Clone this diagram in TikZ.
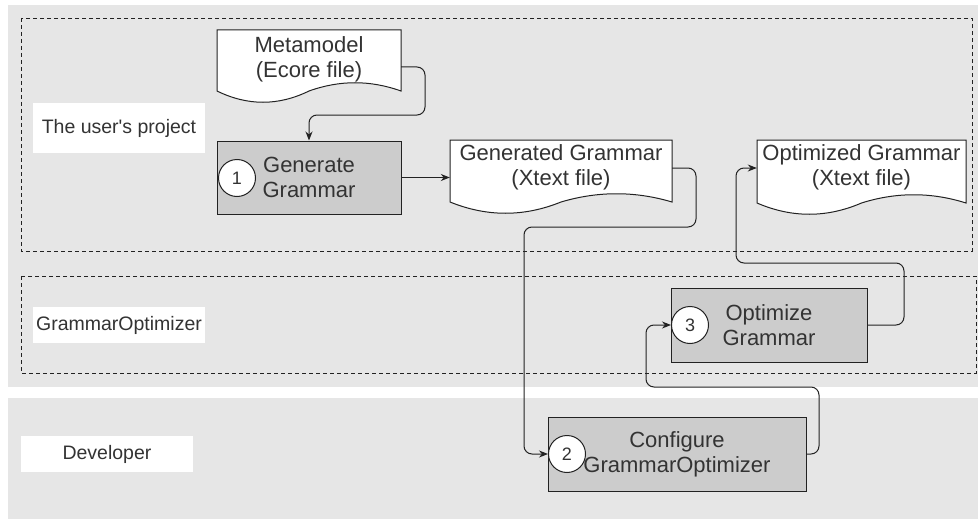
\documentclass[tikz,border=0pt]{standalone}
\usepackage{fontspec}
\setmainfont{Liberation Sans}
\usetikzlibrary{arrows.meta,calc}
\definecolor{bandgray}{HTML}{E6E6E6}
\definecolor{procgray}{HTML}{CCCCCC}
\definecolor{txt}{HTML}{333333}
\definecolor{ln}{HTML}{222222}
\tikzset{
  band/.style={fill=bandgray, draw=none},
  zone/.style={draw=ln, dash pattern=on 4pt off 3pt, line width=0.9pt},
  lbl/.style={fill=white, text=txt, font=\fontsize{19.5}{23}\selectfont, minimum width=172pt, inner sep=0pt},
  proc/.style={draw=ln, fill=procgray, line width=1pt, text=txt, font=\fontsize{22}{25}\selectfont, align=center, inner sep=0pt},
  docbox/.style={inner sep=0pt, text=txt, font=\fontsize{22}{25}\selectfont, align=center},
  docline/.style={draw=ln, fill=white, line width=1pt},
  num/.style={circle, draw=ln, fill=white, line width=1pt, minimum size=37pt, inner sep=0pt, text=txt, font=\fontsize{18}{20}\selectfont},
  conn/.style={draw=ln, line width=1pt, rounded corners=8pt, -{Stealth[length=9pt,width=7pt]}},
}
% name, x0, top, x1, yb, text centre y, text
\newcommand\docnode[7]{%
  \draw[docline] (#2,#3) -- (#4,#3) -- (#4,#5)
    .. controls ({#4-(#4-#2)/6},{#5-11}) and ({(#2+#4)/2+(#4-#2)/6},{#5-11}) .. ({(#2+#4)/2},#5)
    .. controls ({(#2+#4)/2-(#4-#2)/6},{#5+15}) and ({#2+(#4-#2)/6},{#5+15}) .. (#2,#5) -- cycle;
  \node[docbox, minimum width={(#4-#2)*1pt}] (#1) at ({(#2+#4)/2},#6) {#7};
}
\begin{document}
\begin{tikzpicture}[x=1pt,y=-1pt]
\useasboundingbox (0,0) rectangle (978,519);
% bands
\fill[band] (8,5) rectangle (978,387);
\fill[band] (8,398) rectangle (978,519);
% zones
\draw[zone] (21,18) rectangle (972,251);
\draw[zone] (21,276) rectangle (976,373);
% zone labels
\node[lbl, minimum height=50pt] (lproj) at (119,128) {The user\textquotesingle s project};
\node[lbl, minimum height=36pt] (lopt) at (119,325) {GrammarOptimizer};
\node[lbl, minimum height=36pt] (ldev) at (107,454) {Developer};
% documents
\docnode{meta}{217}{30}{401}{91}{59.5}{Metamodel\\(Ecore file)}
\docnode{ggram}{450}{140}{672}{202}{167}{Generated Grammar\\(Xtext file)}
\docnode{ogram}{757}{140}{966}{203}{167.5}{Optimized Grammar\\(Xtext file)}
% processes
\node[proc, minimum width=184pt, minimum height=73pt] (gen) at (309,177.5) {Generate\\Grammar};
\node[proc, minimum width=196pt, minimum height=74pt] (opt) at (769,325) {Optimize\\Grammar};
\node[proc, minimum width=258pt, minimum height=74pt] (conf) at (677,454) {Configure\\GrammarOptimizer};
\node[num] (n1) at (237,178) {1};
\node[num] (n3) at (690,325) {3};
\node[num] (n2) at (567,454) {2};
% connectors
\draw[conn] ([yshift=-7.5pt]meta.east) -- (425,67) -- (425,115) -- (309,115) -- (gen.north);
\draw[conn] (gen.east) -- (ggram.west |- gen.east);
\draw[conn] ([yshift=-1pt]ggram.east) -- (696,168) -- (696,227) -- (524,227) -- (524,454) -- (n2.west);
\draw[conn] (conf.east) -- (819,454) -- (819,387) -- (646,387) -- (646,325) -- (n3.west);
\draw[conn] (opt.east) -- (904,325) -- (904,263) -- (736,263) -- (736,168) -- ([yshift=-0.5pt]ogram.west);
\end{tikzpicture}
\end{document}
